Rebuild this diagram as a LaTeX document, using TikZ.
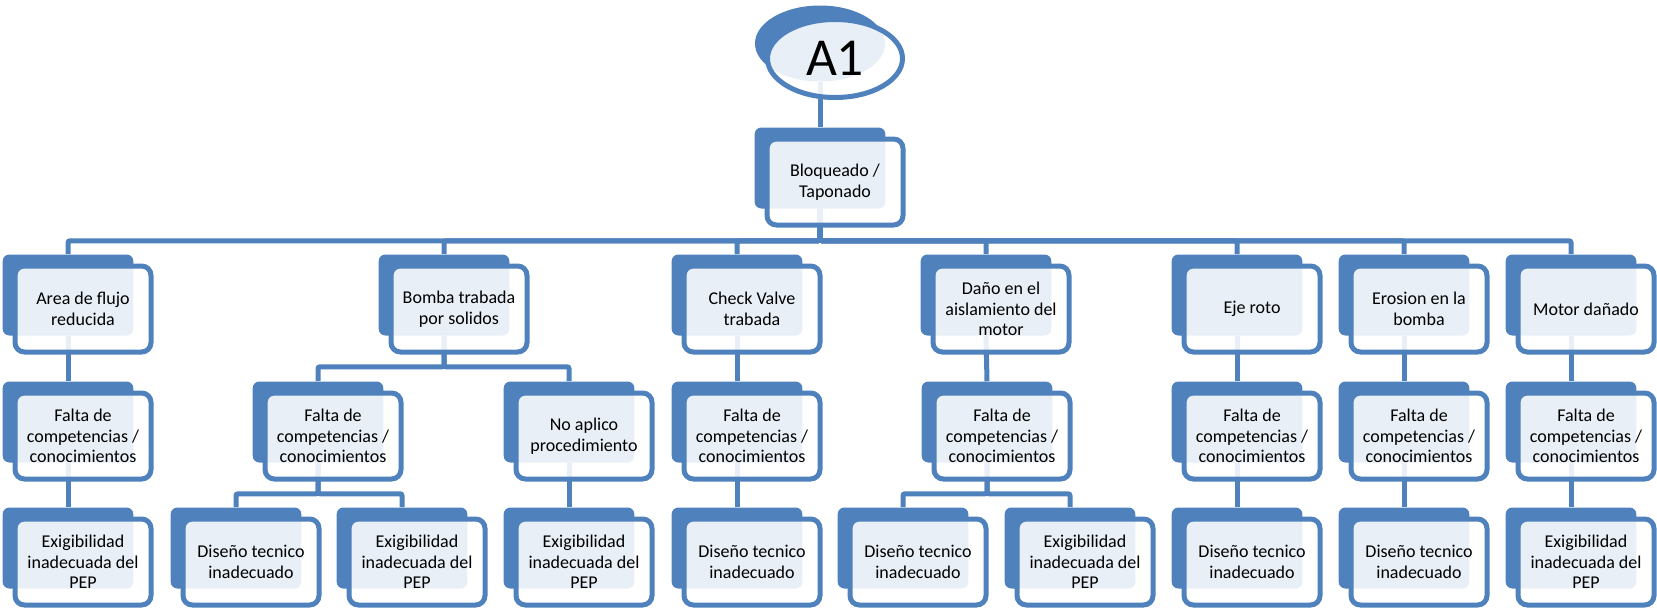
\documentclass[tikz,border=0pt]{standalone}
\usepackage{fontspec}
\setmainfont{Carlito}
\usepackage{tikz}
\usetikzlibrary{shapes.geometric}
\usetikzlibrary{backgrounds}

\definecolor{azul}{RGB}{79,129,189}

\tikzset{
  caja/.style={fill=azul, rounded corners=5pt, inner sep=0pt,
    minimum width=98pt, minimum height=60.75pt},
  frente/.style={draw=azul, line width=3.75pt, fill=white, fill opacity=0.88,
    text opacity=1, rounded corners=7pt, inner sep=0pt,
    minimum width=102pt, minimum height=64.5pt, align=center,
    font=\fontsize{13.5}{15.5}\selectfont, xshift=11.25pt, yshift=-10.5pt},
  ovalo/.style={ellipse, fill=azul, inner sep=0pt,
    minimum width=97.5pt, minimum height=57pt},
  ovalofrente/.style={ellipse, draw=azul, line width=3.75pt, fill=white,
    fill opacity=0.88, text opacity=1, inner sep=0pt,
    minimum width=101.25pt, minimum height=58.5pt,
    font=\fontsize{40}{48}\selectfont, xshift=11.25pt, yshift=-11.25pt},
  conector/.style={draw=azul, line width=3.75pt, rounded corners=1.5pt}
}

\begin{document}
\begin{tikzpicture}[x=0.75pt, y=-0.75pt]
  \useasboundingbox (0,0) rectangle (1657,608);

  \node[ovalo, label={[ovalofrente]center:A1}] (a1) at (820,43.5) {};
  \node[caja, label={[frente]center:{Bloqueado /\\Taponado}}] (bloq) at (820,168) {};

  % primer nivel
  \node[caja, label={[frente]center:{Area de flujo\\reducida}}] (area) at (68,295) {};
  \node[caja, label={[frente]center:{Bomba trabada\\por solidos}}] (bomba) at (444,295) {};
  \node[caja, label={[frente]center:{Check Valve\\trabada}}] (check) at (737,295) {};
  \node[caja, label={[frente]center:{Daño en el\\aislamiento del\\motor}}] (dano) at (986,295) {};
  \node[caja, label={[frente]center:{Eje roto}}] (eje) at (1237,295) {};
  \node[caja, label={[frente]center:{Erosion en la\\bomba}}] (erosion) at (1404,295) {};
  \node[caja, label={[frente]center:{Motor dañado}}] (motor) at (1571,295) {};

  % segundo nivel
  \node[caja, label={[frente]center:{Falta de\\competencias /\\conocimientos}}] (falta1) at (68,422) {};
  \node[caja, label={[frente]center:{Falta de\\competencias /\\conocimientos}}] (falta2) at (318,422) {};
  \node[caja, label={[frente]center:{No aplico\\procedimiento}}] (noaplico) at (569,422) {};
  \node[caja, label={[frente]center:{Falta de\\competencias /\\conocimientos}}] (falta3) at (737,422) {};
  \node[caja, label={[frente]center:{Falta de\\competencias /\\conocimientos}}] (falta4) at (987,422) {};
  \node[caja, label={[frente]center:{Falta de\\competencias /\\conocimientos}}] (falta5) at (1237,422) {};
  \node[caja, label={[frente]center:{Falta de\\competencias /\\conocimientos}}] (falta6) at (1404,422) {};
  \node[caja, label={[frente]center:{Falta de\\competencias /\\conocimientos}}] (falta7) at (1571,422) {};

  % tercer nivel
  \node[caja, label={[frente]center:{Exigibilidad\\inadecuada del\\PEP}}] (exig1) at (68,548) {};
  \node[caja, label={[frente]center:{Diseño tecnico\\inadecuado}}] (diseno1) at (236,548) {};
  \node[caja, label={[frente]center:{Exigibilidad\\inadecuada del\\PEP}}] (exig2) at (402,548) {};
  \node[caja, label={[frente]center:{Exigibilidad\\inadecuada del\\PEP}}] (exig3) at (569,548) {};
  \node[caja, label={[frente]center:{Diseño tecnico\\inadecuado}}] (diseno2) at (737,548) {};
  \node[caja, label={[frente]center:{Diseño tecnico\\inadecuado}}] (diseno3) at (903,548) {};
  \node[caja, label={[frente]center:{Exigibilidad\\inadecuada del\\PEP}}] (exig4) at (1070,548) {};
  \node[caja, label={[frente]center:{Diseño tecnico\\inadecuado}}] (diseno4) at (1237,548) {};
  \node[caja, label={[frente]center:{Diseño tecnico\\inadecuado}}] (diseno5) at (1404,548) {};
  \node[caja, label={[frente]center:{Exigibilidad\\inadecuada del\\PEP}}] (exig5) at (1571,548) {};

  % conectores
  \begin{scope}[on background layer]
    \draw[conector] (a1.south) -- (bloq.north);
    \draw[conector] (bloq.south) -- ++(0,32) -| (area.north);
    \draw[conector] (bloq.south) -- ++(0,32) -| (bomba.north);
    \draw[conector] (bloq.south) -- ++(0,32) -| (check.north);
    \draw[conector] (bloq.south) -- ++(0,32) -| (dano.north);
    \draw[conector] (bloq.south) -- ++(0,32) -| (eje.north);
    \draw[conector] (bloq.south) -- ++(0,32) -| (erosion.north);
    \draw[conector] (bloq.south) -- ++(0,32) -| (motor.north);

    \draw[conector] (area.south) -- (falta1.north);
    \draw[conector] (bomba.south) -- ++(0,31) -| (falta2.north);
    \draw[conector] (bomba.south) -- ++(0,31) -| (noaplico.north);
    \draw[conector] (check.south) -- (falta3.north);
    \draw[conector] (dano.south) -- (falta4.north);
    \draw[conector] (eje.south) -- (falta5.north);
    \draw[conector] (erosion.south) -- (falta6.north);
    \draw[conector] (motor.south) -- (falta7.north);

    \draw[conector] (falta1.south) -- (exig1.north);
    \draw[conector] (falta2.south) -- ++(0,31) -| (diseno1.north);
    \draw[conector] (falta2.south) -- ++(0,31) -| (exig2.north);
    \draw[conector] (noaplico.south) -- (exig3.north);
    \draw[conector] (falta3.south) -- (diseno2.north);
    \draw[conector] (falta4.south) -- ++(0,31) -| (diseno3.north);
    \draw[conector] (falta4.south) -- ++(0,31) -| (exig4.north);
    \draw[conector] (falta5.south) -- (diseno4.north);
    \draw[conector] (falta6.south) -- (diseno5.north);
    \draw[conector] (falta7.south) -- (exig5.north);
  \end{scope}
\end{tikzpicture}
\end{document}
